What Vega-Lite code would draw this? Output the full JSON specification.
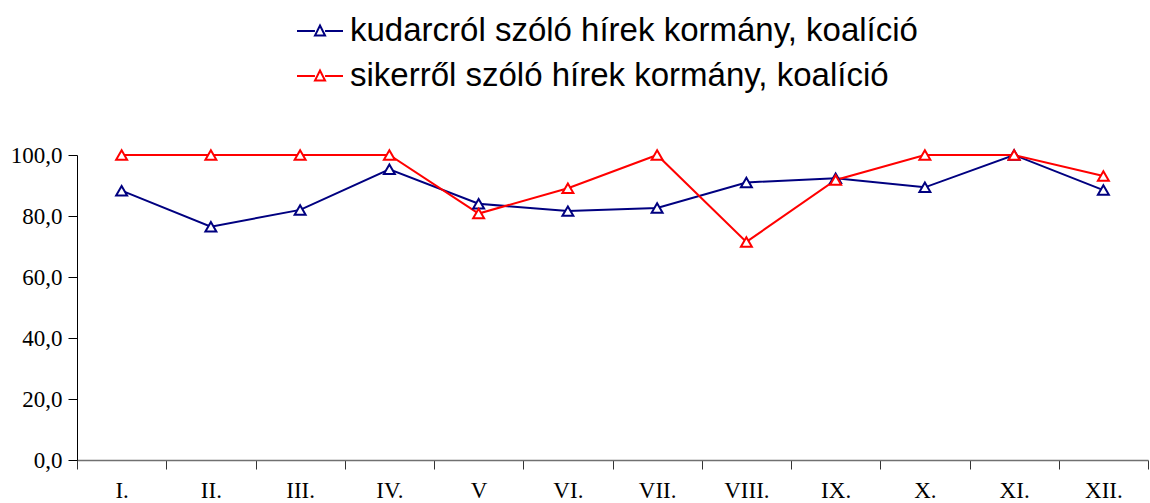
{
  "$schema": "https://vega.github.io/schema/vega-lite/v6.json",
  "autosize": {"type": "none"},
  "padding": {"left": 77, "top": 155, "right": 2, "bottom": 43},
  "width": 1071,
  "height": 305,
  "background": "white",
  "data": {
    "values": [
      {"month": "I.", "series": "kudarcról szóló hírek kormány, koalíció", "value": 88.3},
      {"month": "II.", "series": "kudarcról szóló hírek kormány, koalíció", "value": 76.5},
      {"month": "III.", "series": "kudarcról szóló hírek kormány, koalíció", "value": 82.0},
      {"month": "IV.", "series": "kudarcról szóló hírek kormány, koalíció", "value": 95.3},
      {"month": "V", "series": "kudarcról szóló hírek kormány, koalíció", "value": 84.0},
      {"month": "VI.", "series": "kudarcról szóló hírek kormány, koalíció", "value": 81.6},
      {"month": "VII.", "series": "kudarcról szóló hírek kormány, koalíció", "value": 82.6},
      {"month": "VIII.", "series": "kudarcról szóló hírek kormány, koalíció", "value": 91.0},
      {"month": "IX.", "series": "kudarcról szóló hírek kormány, koalíció", "value": 92.4},
      {"month": "X.", "series": "kudarcról szóló hírek kormány, koalíció", "value": 89.4},
      {"month": "XI.", "series": "kudarcról szóló hírek kormány, koalíció", "value": 100.0},
      {"month": "XII.", "series": "kudarcról szóló hírek kormány, koalíció", "value": 88.5},
      {"month": "I.", "series": "sikerről szóló hírek kormány, koalíció", "value": 100.0},
      {"month": "II.", "series": "sikerről szóló hírek kormány, koalíció", "value": 100.0},
      {"month": "III.", "series": "sikerről szóló hírek kormány, koalíció", "value": 100.0},
      {"month": "IV.", "series": "sikerről szóló hírek kormány, koalíció", "value": 100.0},
      {"month": "V", "series": "sikerről szóló hírek kormány, koalíció", "value": 80.8},
      {"month": "VI.", "series": "sikerről szóló hírek kormány, koalíció", "value": 89.1},
      {"month": "VII.", "series": "sikerről szóló hírek kormány, koalíció", "value": 100.0},
      {"month": "VIII.", "series": "sikerről szóló hírek kormány, koalíció", "value": 71.5},
      {"month": "IX.", "series": "sikerről szóló hírek kormány, koalíció", "value": 91.8},
      {"month": "X.", "series": "sikerről szóló hírek kormány, koalíció", "value": 100.0},
      {"month": "XI.", "series": "sikerről szóló hírek kormány, koalíció", "value": 100.0},
      {"month": "XII.", "series": "sikerről szóló hírek kormány, koalíció", "value": 93.1}
    ]
  },
  "encoding": {
    "x": {
      "field": "month",
      "type": "ordinal",
      "sort": null,
      "bandPosition": 0.5,
      "scale": {"type": "band", "paddingInner": 0, "paddingOuter": 0},
      "axis": {
        "title": null,
        "labelAngle": 0,
        "tickBand": "extent",
        "domainColor": "#707070",
        "domainWidth": 1.5,
        "tickColor": "#333",
        "tickSize": 9,
        "labelFont": "Liberation Serif",
        "labelFontSize": 23,
        "labelColor": "#000",
        "labelPadding": 10
      }
    },
    "y": {
      "field": "value",
      "type": "quantitative",
      "scale": {"domain": [0, 100], "nice": false},
      "axis": {
        "title": null,
        "values": [0, 20, 40, 60, 80, 100],
        "grid": false,
        "labelExpr": "replace(format(datum.value, '.1f'), '.', ',')",
        "domainColor": "#000",
        "tickColor": "#000",
        "tickSize": 9,
        "labelFont": "Liberation Serif",
        "labelFontSize": 23,
        "labelColor": "#000",
        "labelPadding": 6
      }
    },
    "color": {
      "field": "series",
      "type": "nominal",
      "scale": {
        "domain": ["kudarcról szóló hírek kormány, koalíció", "sikerről szóló hírek kormány, koalíció"],
        "range": ["#000080", "#FF0000"]
      },
      "legend": {
        "title": null,
        "orient": "none",
        "legendX": 219,
        "legendY": -148,
        "padding": 0,
        "rowPadding": 4,
        "symbolType": "M-1,0H-0.22M0.22,0H1M-0.22,0.2L0,-0.24L0.22,0.2Z",
        "symbolSize": 2116,
        "symbolFillColor": "white",
        "symbolStrokeWidth": 2,
        "labelFont": "Liberation Sans",
        "labelFontSize": 33,
        "labelColor": "#000",
        "labelOffset": 6,
        "labelLimit": 1000
      }
    }
  },
  "layer": [
    {"mark": {"type": "line", "strokeWidth": 2}},
    {"mark": {"type": "point", "shape": "triangle-up", "filled": false, "fill": "white", "fillOpacity": 1, "size": 120, "strokeWidth": 2, "opacity": 1}}
  ],
  "config": {"view": {"stroke": null}}
}
